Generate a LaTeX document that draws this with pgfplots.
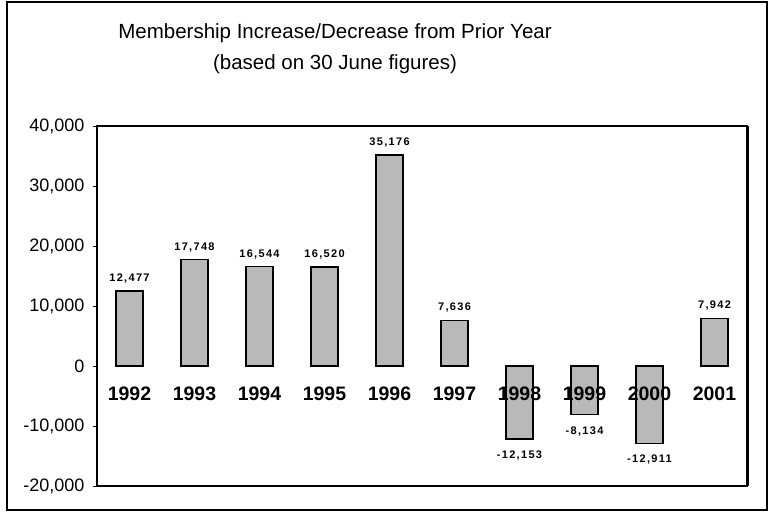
\documentclass[border=0pt]{standalone}
\usepackage{fontspec}
\setmainfont{Liberation Sans}
\newfontfamily\valfont[LetterSpace=12]{Liberation Sans}
\usepackage{pgfplots}
\pgfplotsset{compat=1.18}
\usepackage{pgfplotstable}

\pgfplotstableread{
x year val
0 1992 12477
1 1993 17748
2 1994 16544
3 1995 16520
4 1996 35176
5 1997 7636
9 2001 7942
}\postable

\pgfplotstableread{
x year val
6 1998 -12153
7 1999 -8134
8 2000 -12911
}\negtable

\pgfplotstableread{
x year
0 1992
1 1993
2 1994
3 1995
4 1996
5 1997
6 1998
7 1999
8 2000
9 2001
}\yeartable

\begin{document}
\begin{tikzpicture}
\path (-97pt,-26pt) rectangle (673pt,486pt);
\draw[line width=1.5pt] (-90pt,-24pt) rectangle (670pt,484pt);
\begin{axis}[
  at={(0pt,0pt)}, anchor=south west,
  scale only axis, width=650pt, height=360pt,
  xmin=-0.5, xmax=9.5, ymin=-20000, ymax=40000,
  ytick={-20000,-10000,...,40000},
  xtick=\empty,
  ytick pos=left,
  scaled y ticks=false,
  tick align=outside,
  major tick length=4pt,
  ytick style={line width=0.8pt, black},
  yticklabel style={font=\fontsize{18}{18}\selectfont, xshift=-5pt},
  axis line style={line width=1.5pt},
  clip=false,
  /pgf/number format/1000 sep={,},
  /pgf/number format/assume math mode=true,
]
\addplot[ybar, bar shift=0pt, bar width=27pt, fill=gray!55, draw=black, line width=1.3pt,
  nodes near coords, point meta=y,
  every node near coord/.append style={font=\valfont\bfseries\fontsize{11}{11}\selectfont, anchor=south, inner sep=7pt}]
  table[x=x, y=val]{\postable};
\addplot[ybar, bar shift=0pt, bar width=27pt, fill=gray!55, draw=black, line width=1.3pt,
  nodes near coords, point meta=y,
  every node near coord/.append style={font=\valfont\bfseries\fontsize{11}{11}\selectfont, anchor=north, inner sep=11pt}]
  table[x=x, y=val]{\negtable};
\addplot[draw=none, mark=none,
  nodes near coords={\bfseries\fontsize{19.5}{19.5}\selectfont\pgfplotspointmeta},
  point meta=explicit symbolic,
  every node near coord/.append style={anchor=base, yshift=-34pt, inner sep=0pt}]
  table[x=x, y expr=0, meta=year]{\yeartable};
\end{axis}
\draw[line width=3pt] (650pt,0pt) -- (650pt,360pt);
\node[anchor=base, font=\fontsize{20.5}{20.5}\selectfont] at (238pt,447pt) {Membership Increase/Decrease from Prior Year};
\node[anchor=base, font=\fontsize{20.5}{20.5}\selectfont] at (238pt,416pt) {(based on 30 June figures)};
\end{tikzpicture}
\end{document}
